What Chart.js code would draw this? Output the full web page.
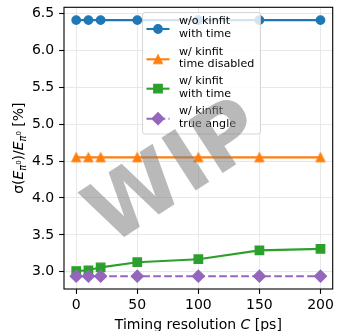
<!DOCTYPE html>
<html>
<head>
<meta charset="utf-8">
<script src="https://cdn.jsdelivr.net/npm/chart.js@4/dist/chart.umd.min.js"></script>
<style>
    html, body { margin: 0; padding: 0; background: #fff; }
    #wrap { width: 340px; height: 331px; }
</style>
</head>
<body>
<div id="wrap"><canvas id="chartCanvas" width="340" height="331"></canvas></div>
<script>
// values
const timing = [0, 10, 20, 50, 100, 150, 200]
const woKinfitTime = [6.41, 6.41, 6.41, 6.41, 6.41, 6.41, 6.41]
const kinfitNoTime = [4.55, 4.55, 4.55, 4.55, 4.55, 4.55, 4.55]
const kinfitTime = [3.01, 3.02, 3.06, 3.13, 3.17, 3.29, 3.31]
const kinfitTrueAngle = [2.94, 2.94, 2.94, 2.94, 2.94, 2.94, 2.94]
const xTicks = [0, 50, 100, 150, 200]
const yTicks = [3.0, 3.5, 4.0, 4.5, 5.0, 5.5, 6.0, 6.5]
const legendLabels = [
    ['w/o kinfit', 'with time'],
    ['w/ kinfit', 'time disabled'],
    ['w/ kinfit', 'with time'],
    ['w/ kinfit', 'true angle']
]

const FONT = "'DejaVu Sans', sans-serif"
const gridColor = '#e8e8e8'

// matplotlib-like '^' marker, drawn once on a small canvas
const triangleMarker = (color) => {
    const c = document.createElement('canvas')
    c.width = 14
    c.height = 14
    const g = c.getContext('2d')
    g.beginPath()
    g.moveTo(7, 2.85)
    g.lineTo(2.85, 11.15)
    g.lineTo(11.15, 11.15)
    g.closePath()
    g.fillStyle = color
    g.strokeStyle = color
    g.lineWidth = 1.4
    g.lineJoin = 'miter'
    g.fill()
    g.stroke()
    return c
}

const series = [
    { data: woKinfitTime, color: '#1f77b4', style: 'circle', radius: 4.2, dash: [] },
    { data: kinfitNoTime, color: '#ff7f0e', style: triangleMarker('#ff7f0e'), radius: 5, dash: [] },
    { data: kinfitTime, color: '#2ca02c', style: 'rect', radius: 5.9, dash: [] },
    { data: kinfitTrueAngle, color: '#9467bd', style: 'rectRot', radius: 5.9, dash: [7.7, 3.3] }
]

const datasets = series.map((s, i) => ({
    data: timing.map((x, j) => ({ x: x, y: s.data[j] })),
    borderColor: s.color,
    backgroundColor: s.color,
    borderWidth: 2.1,
    borderDash: s.dash,
    pointStyle: s.style,
    pointRadius: s.radius,
    pointBorderWidth: 1.4,
    pointBackgroundColor: s.color,
    pointBorderColor: s.color,
    fill: false,
    tension: 0,
    order: series.length - 1 - i
}))

// draws text made of pieces (italic, sub/superscripts), centred on x=0
const drawRich = (ctx, parts, y) => {
    let total = 0
    parts.forEach(p => {
        ctx.font = (p.italic ? 'italic ' : '') + p.size + 'px ' + FONT
        p.w = ctx.measureText(p.t).width
        total += p.w
    })
    let x = -total / 2
    ctx.textAlign = 'left'
    ctx.textBaseline = 'alphabetic'
    parts.forEach(p => {
        ctx.font = (p.italic ? 'italic ' : '') + p.size + 'px ' + FONT
        ctx.fillText(p.t, x, y + (p.dy || 0))
        x += p.w
    })
}

const xTitle = [
    { t: 'Timing resolution ', size: 14 },
    { t: 'C', size: 14, italic: true },
    { t: ' [ps]', size: 14 }
]
const yTitle = [
    { t: 'σ(', size: 14, italic: false },
    { t: 'E', size: 14, italic: true },
    { t: 'π', size: 9.8, italic: true, dy: 3 },
    { t: '0', size: 6.9, dy: -2 },
    { t: ')/', size: 14 },
    { t: 'E', size: 14, italic: true },
    { t: 'π', size: 9.8, italic: true, dy: 3 },
    { t: '0', size: 6.9, dy: -2 },
    { t: ' [%]', size: 14 }
]

const drawMarker = (ctx, s, x, y) => {
    if (typeof s.style !== 'string') {
        ctx.drawImage(s.style, x - s.style.width / 2, y - s.style.height / 2)
        return
    }
    ctx.fillStyle = s.color
    ctx.strokeStyle = s.color
    ctx.lineWidth = 1.4
    ctx.setLineDash([])
    Chart.helpers.drawPoint(ctx, { pointStyle: s.style, radius: s.radius, borderWidth: 1.4, rotation: 0 }, x, y)
}

const decorations = {
    id: 'decorations',
    afterDatasetsDraw(chart) {
        const ctx = chart.ctx
        const a = chart.chartArea
        // axes frame
        ctx.save()
        ctx.strokeStyle = '#000'
        ctx.lineWidth = 1.1
        ctx.strokeRect(a.left, a.top, a.right - a.left, a.bottom - a.top)
        ctx.restore()

        // legend
        ctx.save()
        const lx = 142.5, ly = 12.5, lw = 118, lh = 121.5
        ctx.beginPath()
        ctx.roundRect(lx, ly, lw, lh, 2.5)
        ctx.fillStyle = 'rgba(255,255,255,0.8)'
        ctx.fill()
        ctx.strokeStyle = 'rgba(204,204,204,0.8)'
        ctx.lineWidth = 1
        ctx.stroke()
        const rows = [29, 59.3, 88.7, 118.7]
        series.forEach((s, i) => {
            const hy = rows[i]
            ctx.beginPath()
            ctx.setLineDash(s.dash)
            ctx.strokeStyle = s.color
            ctx.lineWidth = 2.1
            ctx.moveTo(146.5, hy)
            ctx.lineTo(169.5, hy)
            ctx.stroke()
            ctx.setLineDash([])
            drawMarker(ctx, s, 158, hy)
            ctx.fillStyle = '#000'
            ctx.font = '11.1px ' + FONT
            ctx.textAlign = 'left'
            ctx.textBaseline = 'alphabetic'
            ctx.fillText(legendLabels[i][0], 179, hy - 4.6)
            ctx.fillText(legendLabels[i][1], 179, hy + 8.1)
        })
        ctx.restore()
    },
    afterDraw(chart) {
        const ctx = chart.ctx
        const a = chart.chartArea
        ctx.save()
        ctx.fillStyle = '#000'
        ctx.translate((a.left + a.right) / 2, 0)
        drawRich(ctx, xTitle, 328.5)
        ctx.restore()

        ctx.save()
        ctx.fillStyle = '#000'
        ctx.translate(23.3, (a.top + a.bottom) / 2)
        ctx.rotate(-Math.PI / 2)
        drawRich(ctx, yTitle, 0)
        ctx.restore()

        // WIP watermark over everything
        ctx.save()
        ctx.translate(177, 176)
        ctx.rotate(-33 * Math.PI / 180)
        ctx.font = 'bold 86px ' + FONT
        ctx.fillStyle = 'rgba(128,128,128,0.55)'
        ctx.textAlign = 'center'
        ctx.textBaseline = 'middle'
        ctx.fillText('WIP', 0, 0)
        ctx.restore()
    }
}

const tickFont = { family: FONT, size: 14 }

const config = {
    type: 'line',
    data: { datasets: datasets },
    options: {
        responsive: false,
        animation: false,
        devicePixelRatio: 1,
        layout: { padding: { top: 5, right: 2, left: 0, bottom: 0 } },
        plugins: {
            legend: { display: false },
            tooltip: { enabled: false }
        },
        scales: {
            x: {
                type: 'linear',
                min: -10,
                max: 210,
                afterBuildTicks: s => { s.ticks = xTicks.map(v => ({ value: v })) },
                afterFit: s => {
                    s.height = 42
                    s.paddingLeft = 0
                    s.paddingRight = 0
                },
                grid: { color: gridColor, lineWidth: 1, tickLength: 4.9, tickColor: '#000', tickWidth: 1.1 },
                border: { display: false },
                ticks: { font: tickFont, color: '#000', padding: 3, maxRotation: 0, autoSkip: false, callback: v => v }
            },
            y: {
                type: 'linear',
                min: 2.7665,
                max: 6.5835,
                afterBuildTicks: s => { s.ticks = yTicks.map(v => ({ value: v })) },
                afterFit: s => {
                    s.width = 64
                    s.paddingTop = 0
                    s.paddingBottom = 0
                },
                grid: { color: gridColor, lineWidth: 1, tickLength: 4.9, tickColor: '#000', tickWidth: 1.1 },
                border: { display: false },
                ticks: { font: tickFont, color: '#000', padding: 4.9, autoSkip: false, callback: v => v.toFixed(1) }
            }
        }
    },
    plugins: [decorations]
}

const myChart = new Chart(document.getElementById('chartCanvas'), config)
</script>
</body>
</html>
